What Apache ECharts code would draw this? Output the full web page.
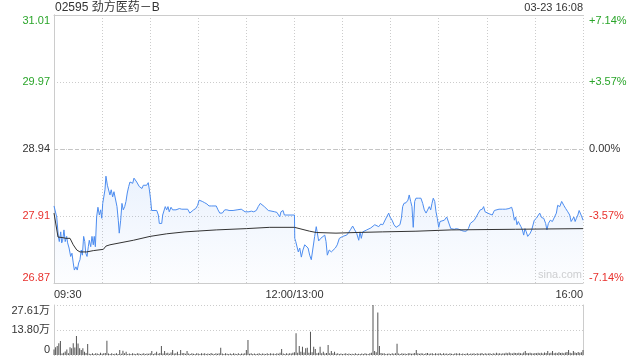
<!DOCTYPE html>
<html><head><meta charset="utf-8">
<script src="https://cdn.jsdelivr.net/npm/echarts@6/dist/echarts.min.js"></script>
<style>html,body{margin:0;padding:0;background:#fff}#c{width:640px;height:360px}</style>
</head><body><div id="c"></div>
<script>
// ---------- data ----------
const titleText = '02595 劲方医药－B';
const stampText = '03-23 16:08';
const prevClose = 28.94;
const priceTickLabels = ['26.87', '27.91', '28.94', '29.97', '31.01'];
const pctTickLabels = ['-7.14%', '-3.57%', '0.00%', '+3.57%', '+7.14%'];
const volTickLabels = ['0', '13.80万', '27.61万'];
const volMax = 27.61; // 万
const timeTickLabels = { 0: '09:30', 150: '12:00/13:00', 330: '16:00' };

// trading minutes since 09:30 (lunch break removed) and prices
const priceMinutes = [
  0, 1.7, 2.7, 3.3, 4.2, 4.8, 5.4, 6.2, 7.0, 7.9, 8.5, 9.4, 10.4, 11.2, 12.0, 12.7, 13.7, 14.5, 15.4, 16.2,
  17.0, 17.7, 18.5, 19.2, 19.8, 20.6, 21.4, 22.0, 22.9, 23.7, 24.5, 25.1, 25.8, 26.6, 27.4, 28.3, 29.1, 29.8, 30.4, 31.2,
  31.8, 32.4, 33.3, 34.1, 34.9, 35.7, 36.6, 37.4, 38.5, 39.3, 40.1, 40.7, 41.6, 42.4, 43.2, 44.1, 44.9, 45.7, 46.6, 47.4,
  48.2, 49.1, 49.9, 50.7, 51.6, 52.4, 53.2, 54.1, 54.9, 55.7, 56.6, 57.8, 58.8, 59.5, 60.3, 60.9, 61.9, 64.1, 65.1, 65.7,
  67.2, 67.8, 68.6, 69.4, 70.3, 71.1, 71.9, 73.0, 74.0, 74.9, 76.1, 77.2, 78.2, 79.7, 81.7, 82.2, 83.4, 84.7, 85.9, 87.1,
  88.4, 89.6, 90.5, 91.3, 92.5, 94.0, 95.4, 96.7, 98.1, 101.2, 102.3, 103.4, 105.0, 106.5, 107.9, 109.2, 110.4, 111.7, 112.9, 114.2,
  115.4, 116.8, 117.9, 119.2, 120.4, 121.6, 123.1, 124.6, 126.2, 127.4, 128.7, 129.9, 131.2, 132.4, 133.7, 134.9, 137.7, 139.1, 139.9, 140.8,
  141.6, 142.9, 143.7, 144.9, 150.0, 150.2, 150.8, 151.6, 152.4, 153.3, 154.3, 155.3, 156.4, 157.4, 158.5, 159.5, 160.5, 161.6, 162.6, 163.6,
  165.1, 166.4, 167.6, 168.9, 169.7, 170.5, 171.7, 173.0, 174.2, 175.5, 176.7, 178.0, 179.2, 180.1, 181.3, 182.6, 183.8, 185.1, 186.3, 187.6,
  188.8, 190.1, 190.9, 191.7, 192.6, 193.8, 195.1, 196.3, 197.6, 198.8, 200.1, 201.3, 202.6, 203.8, 205.1, 206.3, 207.5, 208.8, 209.6, 210.9,
  212.1, 213.4, 214.6, 215.8, 216.7, 217.5, 218.3, 219.6, 220.8, 221.6, 222.5, 223.3, 224.1, 225.0, 225.8, 227.5, 228.9, 230.0, 231.0, 232.1,
  233.3, 234.1, 235.0, 235.8, 236.6, 237.5, 238.3, 239.1, 240.0, 240.8, 242.0, 243.5, 245.0, 246.2, 247.5, 248.5, 249.7, 251.0, 252.6, 254.3,
  255.8, 257.2, 258.5, 259.7, 260.9, 262.2, 263.4, 264.7, 265.9, 267.2, 268.0, 268.9, 270.1, 271.4, 272.2, 273.4, 274.7, 275.9, 277.6, 279.7,
  281.8, 283.8, 285.5, 286.3, 287.2, 288.0, 288.8, 289.6, 290.5, 291.3, 292.2, 293.0, 293.8, 294.6, 295.5, 296.3, 297.1, 298.0, 298.8, 299.6,
  300.9, 302.1, 303.0, 304.2, 305.5, 306.7, 307.5, 308.4, 309.6, 310.9, 312.1, 313.4, 314.2, 315.5, 316.7, 318.0, 319.2, 320.5, 321.7, 322.6,
  323.4, 324.3, 325.1, 325.9, 326.8, 327.6, 328.4, 329.3, 330.0
];
const priceValues = [
  28.06, 27.89, 27.59, 27.51, 27.66, 27.49, 27.53, 27.69, 27.51, 27.59, 27.49, 27.41, 27.28, 27.33, 27.18, 27.07, 27.12, 27.07, 27.18, 27.23,
  27.38, 27.30, 27.59, 27.51, 27.33, 27.28, 27.43, 27.53, 27.43, 27.59, 27.46, 27.59, 27.43, 27.89, 28.04, 27.92, 28.00, 27.87, 28.10, 28.13,
  28.31, 28.52, 28.38, 28.41, 28.23, 28.31, 28.20, 28.28, 28.26, 28.05, 27.84, 27.64, 27.84, 28.10, 28.00, 28.05, 28.13, 28.26, 28.36, 28.43,
  28.46, 28.41, 28.49, 28.52, 28.43, 28.41, 28.36, 28.38, 28.33, 28.38, 28.41, 28.38, 28.42, 28.31, 28.15, 27.99, 27.99, 27.99, 27.92, 27.79,
  27.79, 27.92, 27.95, 28.05, 28.00, 28.05, 27.97, 28.04, 28.00, 28.02, 28.00, 27.97, 28.02, 28.01, 28.01, 28.00, 28.01, 27.95, 27.97, 28.00,
  28.02, 28.07, 28.15, 28.13, 28.13, 28.11, 28.09, 28.06, 28.06, 28.06, 28.00, 27.95, 27.95, 28.00, 28.00, 27.99, 27.97, 27.99, 27.98, 28.00,
  27.99, 28.01, 28.00, 27.97, 27.96, 27.97, 27.98, 27.97, 27.99, 28.05, 28.10, 28.08, 28.05, 28.04, 27.99, 27.97, 27.97, 27.96, 27.97, 27.89,
  27.97, 27.99, 27.92, 27.92, 27.92, 27.56, 27.51, 27.53, 27.35, 27.41, 27.27, 27.38, 27.46, 27.46, 27.41, 27.30, 27.23, 27.20, 27.59, 27.74,
  27.52, 27.56, 27.59, 27.61, 27.51, 27.30, 27.38, 27.35, 27.33, 27.41, 27.46, 27.56, 27.53, 27.59, 27.61, 27.61, 27.65, 27.70, 27.75, 27.69,
  27.64, 27.53, 27.66, 27.56, 27.66, 27.68, 27.69, 27.66, 27.72, 27.74, 27.77, 27.77, 27.74, 27.78, 27.77, 27.80, 27.89, 27.95, 27.89, 27.84,
  27.77, 27.73, 27.73, 27.77, 27.87, 28.05, 28.10, 28.11, 28.15, 28.23, 28.13, 28.05, 27.73, 28.13, 28.18, 28.18, 28.18, 28.10, 28.00, 27.95,
  27.97, 28.05, 28.00, 28.10, 28.18, 28.13, 27.97, 27.87, 27.73, 27.82, 27.82, 27.84, 27.89, 27.87, 27.71, 27.68, 27.70, 27.71, 27.70, 27.68,
  27.67, 27.67, 27.71, 27.79, 27.82, 27.84, 27.87, 27.95, 28.00, 28.01, 28.05, 27.97, 27.96, 27.94, 27.95, 27.92, 27.99, 28.00, 28.01, 28.01,
  28.01, 28.02, 28.04, 27.97, 27.84, 27.89, 27.77, 27.82, 27.84, 27.74, 27.69, 27.61, 27.71, 27.66, 27.59, 27.56, 27.64, 27.69, 27.71, 27.84,
  27.87, 27.89, 27.95, 27.88, 27.87, 27.79, 27.69, 27.79, 27.84, 27.82, 27.84, 27.95, 28.07, 28.05, 28.13, 28.07, 28.02, 27.97, 27.92, 27.82,
  27.84, 27.89, 27.82, 27.87, 27.92, 27.99, 27.97, 27.89, 27.84
];

// average price line
const avgMinutes = [0, 2.5, 5.6, 7.5, 10.0, 12.0, 14.2, 16.2, 20.4, 24.5, 30.8, 32.4, 34.9, 49.5, 59.9, 70.3, 81.7, 101.2, 120.0, 134.6, 150.0, 159.5, 163.6, 175.9, 188.4, 205.1, 225.8, 247.7, 288.0, 330.0];
const avgValues  = [27.95, 27.58, 27.57, 27.56, 27.56, 27.46, 27.38, 27.35, 27.35, 27.37, 27.39, 27.44, 27.46, 27.53, 27.59, 27.63, 27.66, 27.69, 27.71, 27.73, 27.73, 27.67, 27.65, 27.64, 27.65, 27.66, 27.67, 27.69, 27.70, 27.71];

// volume per minute (万股), minute 0..330
const volumes = [
  3.0, 4.3, 5.0, 6.5, 7.7, 0.8, 1.2, 1.9, 3.1, 0.9,
  4.3, 3.7, 6.5, 4.2, 10.5, 6.4, 3.7, 2.8, 3.7, 1.8,
  1.1, 6.1, 0.7, 0.5, 0.9, 0.6, 1.0, 0.8, 0.6, 1.2,
  0.7, 0.9, 1.1, 7.9, 0.8, 0.6, 1.0, 0.5, 0.7, 0.9,
  0.6, 2.8, 0.7, 2.4, 1.0, 1.8, 0.6, 0.8, 0.5, 0.9,
  0.7, 0.6, 1.0, 0.8, 0.5, 0.7, 0.9, 0.6, 0.8, 0.7,
  0.9, 2.2, 0.6, 1.0, 1.8, 0.7, 1.1, 5.0, 0.8, 2.2,
  0.9, 1.2, 0.7, 1.4, 2.8, 0.8, 1.0, 1.8, 0.6, 2.8,
  0.9, 1.1, 0.7, 2.2, 0.8, 0.6, 1.0, 0.7, 0.5, 0.9,
  0.8, 0.6, 1.0, 0.7, 0.9, 0.5, 0.8, 0.6, 1.1, 0.7,
  0.6, 0.9, 0.7, 1.0, 4.0, 0.8, 0.6, 0.9, 0.7, 0.5,
  0.8, 0.6, 1.0, 0.7, 0.5, 0.9, 0.6, 0.8, 0.7, 1.0,
  2.8, 8.3, 0.7, 0.9, 0.6, 0.8, 0.5, 0.7, 0.9, 0.6,
  0.8, 0.7, 0.5, 0.9, 0.6, 1.0, 0.7, 0.8, 0.6, 0.9,
  0.7, 1.2, 3.3, 0.8, 0.6, 0.9, 0.7, 1.0, 0.8, 1.3,
  1.5, 12.0, 1.2, 5.0, 1.8, 4.6, 1.4, 3.7, 4.0, 1.2,
  12.9, 1.5, 4.6, 3.3, 1.0, 1.3, 4.6, 0.9, 1.8, 0.8,
  1.1, 5.5, 0.9, 2.2, 1.0, 1.8, 0.7, 0.9, 0.6, 0.8,
  0.5, 0.7, 0.9, 0.6, 0.8, 0.5, 0.7, 0.6, 0.9, 0.5,
  0.7, 0.6, 0.8, 0.5, 0.9, 0.7, 0.6, 1.0, 1.2, 27.61,
  2.2, 1.5, 23.4, 5.0, 1.1, 0.8, 0.9, 0.6, 0.7, 0.8,
  0.5, 0.9, 0.7, 1.0, 6.2, 0.8, 0.6, 0.9, 0.7, 0.8,
  0.6, 0.9, 1.0, 0.7, 0.8, 1.1, 2.8, 0.9, 0.7, 1.0,
  0.8, 0.6, 0.9, 1.1, 0.7, 0.8, 1.0, 0.6, 0.9, 0.7,
  0.8, 1.0, 0.6, 0.9, 0.7, 0.8, 0.5, 0.9, 0.7, 0.6,
  0.8, 1.0, 0.7, 0.9, 0.6, 0.8, 0.5, 0.7, 0.9, 0.6,
  0.8, 0.7, 1.0, 0.6, 0.9, 0.7, 0.8, 1.1, 0.6, 0.9,
  0.7, 0.8, 1.0, 0.6, 0.9, 0.7, 1.2, 0.8, 0.9, 0.7,
  1.0, 0.8, 1.2, 0.9, 1.4, 1.0, 0.8, 1.3, 1.1, 0.9,
  1.2, 1.0, 0.8, 1.4, 2.2, 1.1, 0.9, 1.3, 1.0, 0.8,
  1.1, 0.9, 1.3, 1.0, 1.2, 0.8, 1.4, 1.1, 2.2, 0.9,
  1.3, 2.2, 1.0, 1.2, 0.9, 1.5, 1.1, 1.3, 1.0, 1.4,
  1.6, 2.8, 1.2, 1.0, 2.2, 1.4, 1.1, 1.6, 1.3, 1.5,
  2.8
];

// ---------- chart ----------
const FONT = '"Liberation Sans", Arial, "Noto Sans CJK SC", sans-serif';
const GREEN = '#2aa52a', RED = '#e8312d', DARK = '#333333', GRID = '#cccccc';
const priceTickNums = priceTickLabels.map(Number);
const nearestIdx = (arr, v) => { let b = 0; arr.forEach((a, i) => { if (Math.abs(a - v) < Math.abs(arr[b] - v)) b = i; }); return b; };
const priceColor = v => (v > prevClose + 0.005 ? GREEN : (v < prevClose - 0.005 ? RED : DARK));
const yMin = priceTickNums[0], yMax = priceTickNums[priceTickNums.length - 1];
const yInterval = (yMax - yMin) / (priceTickNums.length - 1);
const volTickNums = [0, volMax / 2, volMax];

const chart = echarts.init(document.getElementById('c'), null, { renderer: 'canvas' });
chart.setOption({
  animation: false,
  backgroundColor: '#fff',
  textStyle: { fontFamily: FONT },
  graphic: [
    { type: 'text', left: 55, top: 2, style: { text: titleText, font: '12px ' + FONT, fill: DARK } },
    { type: 'text', right: 57, top: 2, style: { text: stampText, font: '11px ' + FONT, fill: DARK } },
    { type: 'text', left: 538, top: 269, style: { text: 'sina.com', font: '11px ' + FONT, fill: '#d0d0d0' } }
  ],
  grid: [
    { left: 54, right: 57, top: 15, height: 268 },
    { left: 54, right: 57, top: 305, height: 50 }
  ],
  xAxis: [
    {
      gridIndex: 0, type: 'value', min: 0, max: 330, interval: 30,
      axisLine: { show: true, lineStyle: { color: GRID } }, axisTick: { show: false },
      splitLine: { show: true, lineStyle: { color: GRID, type: [1, 2] } },
      axisLabel: {
        show: true, margin: 6, fontSize: 11, color: DARK, fontFamily: FONT,
        alignMinLabel: 'left', alignMaxLabel: 'right',
        formatter: v => timeTickLabels[Math.round(v)] || ''
      }
    },
    {
      gridIndex: 0, type: 'value', min: 0, max: 330, position: 'top',
      axisLine: { show: true, lineStyle: { color: GRID } }, axisTick: { show: false },
      axisLabel: { show: false }, splitLine: { show: false }
    },
    {
      gridIndex: 1, type: 'value', min: 0, max: 330,
      axisLine: { show: false }, axisTick: { show: false },
      axisLabel: { show: false }, splitLine: { show: false }
    }
  ],
  yAxis: [
    {
      gridIndex: 0, type: 'value', min: yMin, max: yMax, interval: yInterval,
      axisLine: { show: true, lineStyle: { color: GRID } }, axisTick: { show: false },
      splitLine: { show: true, lineStyle: { color: GRID, type: [1, 2] } },
      axisLabel: {
        margin: 4, fontSize: 11, fontFamily: FONT,
        verticalAlignMinLabel: 'bottom', verticalAlignMaxLabel: 'top',
        formatter: v => priceTickLabels[nearestIdx(priceTickNums, v)],
        color: v => priceColor(priceTickNums[nearestIdx(priceTickNums, v)])
      }
    },
    {
      gridIndex: 0, type: 'value', min: yMin, max: yMax, interval: yInterval, position: 'right',
      axisLine: { show: true, lineStyle: { color: GRID } }, axisTick: { show: false },
      splitLine: { show: false },
      axisLabel: {
        margin: 6, fontSize: 11, fontFamily: FONT,
        verticalAlignMinLabel: 'bottom', verticalAlignMaxLabel: 'top',
        formatter: v => pctTickLabels[nearestIdx(priceTickNums, v)],
        color: v => priceColor(priceTickNums[nearestIdx(priceTickNums, v)])
      }
    },
    {
      gridIndex: 1, type: 'value', min: 0, max: volMax, interval: volMax / 2,
      axisLine: { show: true, lineStyle: { color: GRID } }, axisTick: { show: false },
      splitLine: { show: true, lineStyle: { color: GRID, type: [1, 2] } },
      axisLabel: {
        margin: 4, fontSize: 11, fontFamily: FONT, color: DARK,
        verticalAlignMinLabel: 'bottom', verticalAlignMaxLabel: 'top',
        formatter: v => volTickLabels[nearestIdx(volTickNums, v)]
      }
    },
    {
      gridIndex: 1, type: 'value', min: 0, max: volMax, position: 'right',
      axisLine: { show: true, lineStyle: { color: GRID } }, axisTick: { show: false },
      axisLabel: { show: false }, splitLine: { show: false }
    }
  ],
  series: [
    {
      name: 'price', type: 'line', xAxisIndex: 0, yAxisIndex: 0,
      data: priceMinutes.map((m, i) => [m, priceValues[i]]),
      showSymbol: false, symbol: 'none',
      lineStyle: { color: '#4d8df0', width: 1 },
      areaStyle: {
        origin: 'start',
        color: new echarts.graphic.LinearGradient(0, 0, 0, 1, [
          { offset: 0, color: 'rgba(77,141,240,0.16)' },
          { offset: 1, color: 'rgba(77,141,240,0.02)' }
        ])
      },
      markLine: {
        silent: true, symbol: 'none', label: { show: false },
        lineStyle: { color: '#c4c4c4', type: [4, 3], width: 1 },
        data: [{ yAxis: prevClose }]
      },
      z: 3
    },
    {
      name: 'avg', type: 'line', xAxisIndex: 0, yAxisIndex: 0,
      data: avgMinutes.map((m, i) => [m, avgValues[i]]),
      showSymbol: false, symbol: 'none',
      lineStyle: { color: '#333333', width: 1 }, z: 4
    },
    {
      name: 'volume', type: 'bar', xAxisIndex: 2, yAxisIndex: 2,
      data: volumes.map((v, i) => [i, v]),
      barWidth: 1, itemStyle: { color: '#555555' }
    }
  ]
});
</script>
</body></html>
